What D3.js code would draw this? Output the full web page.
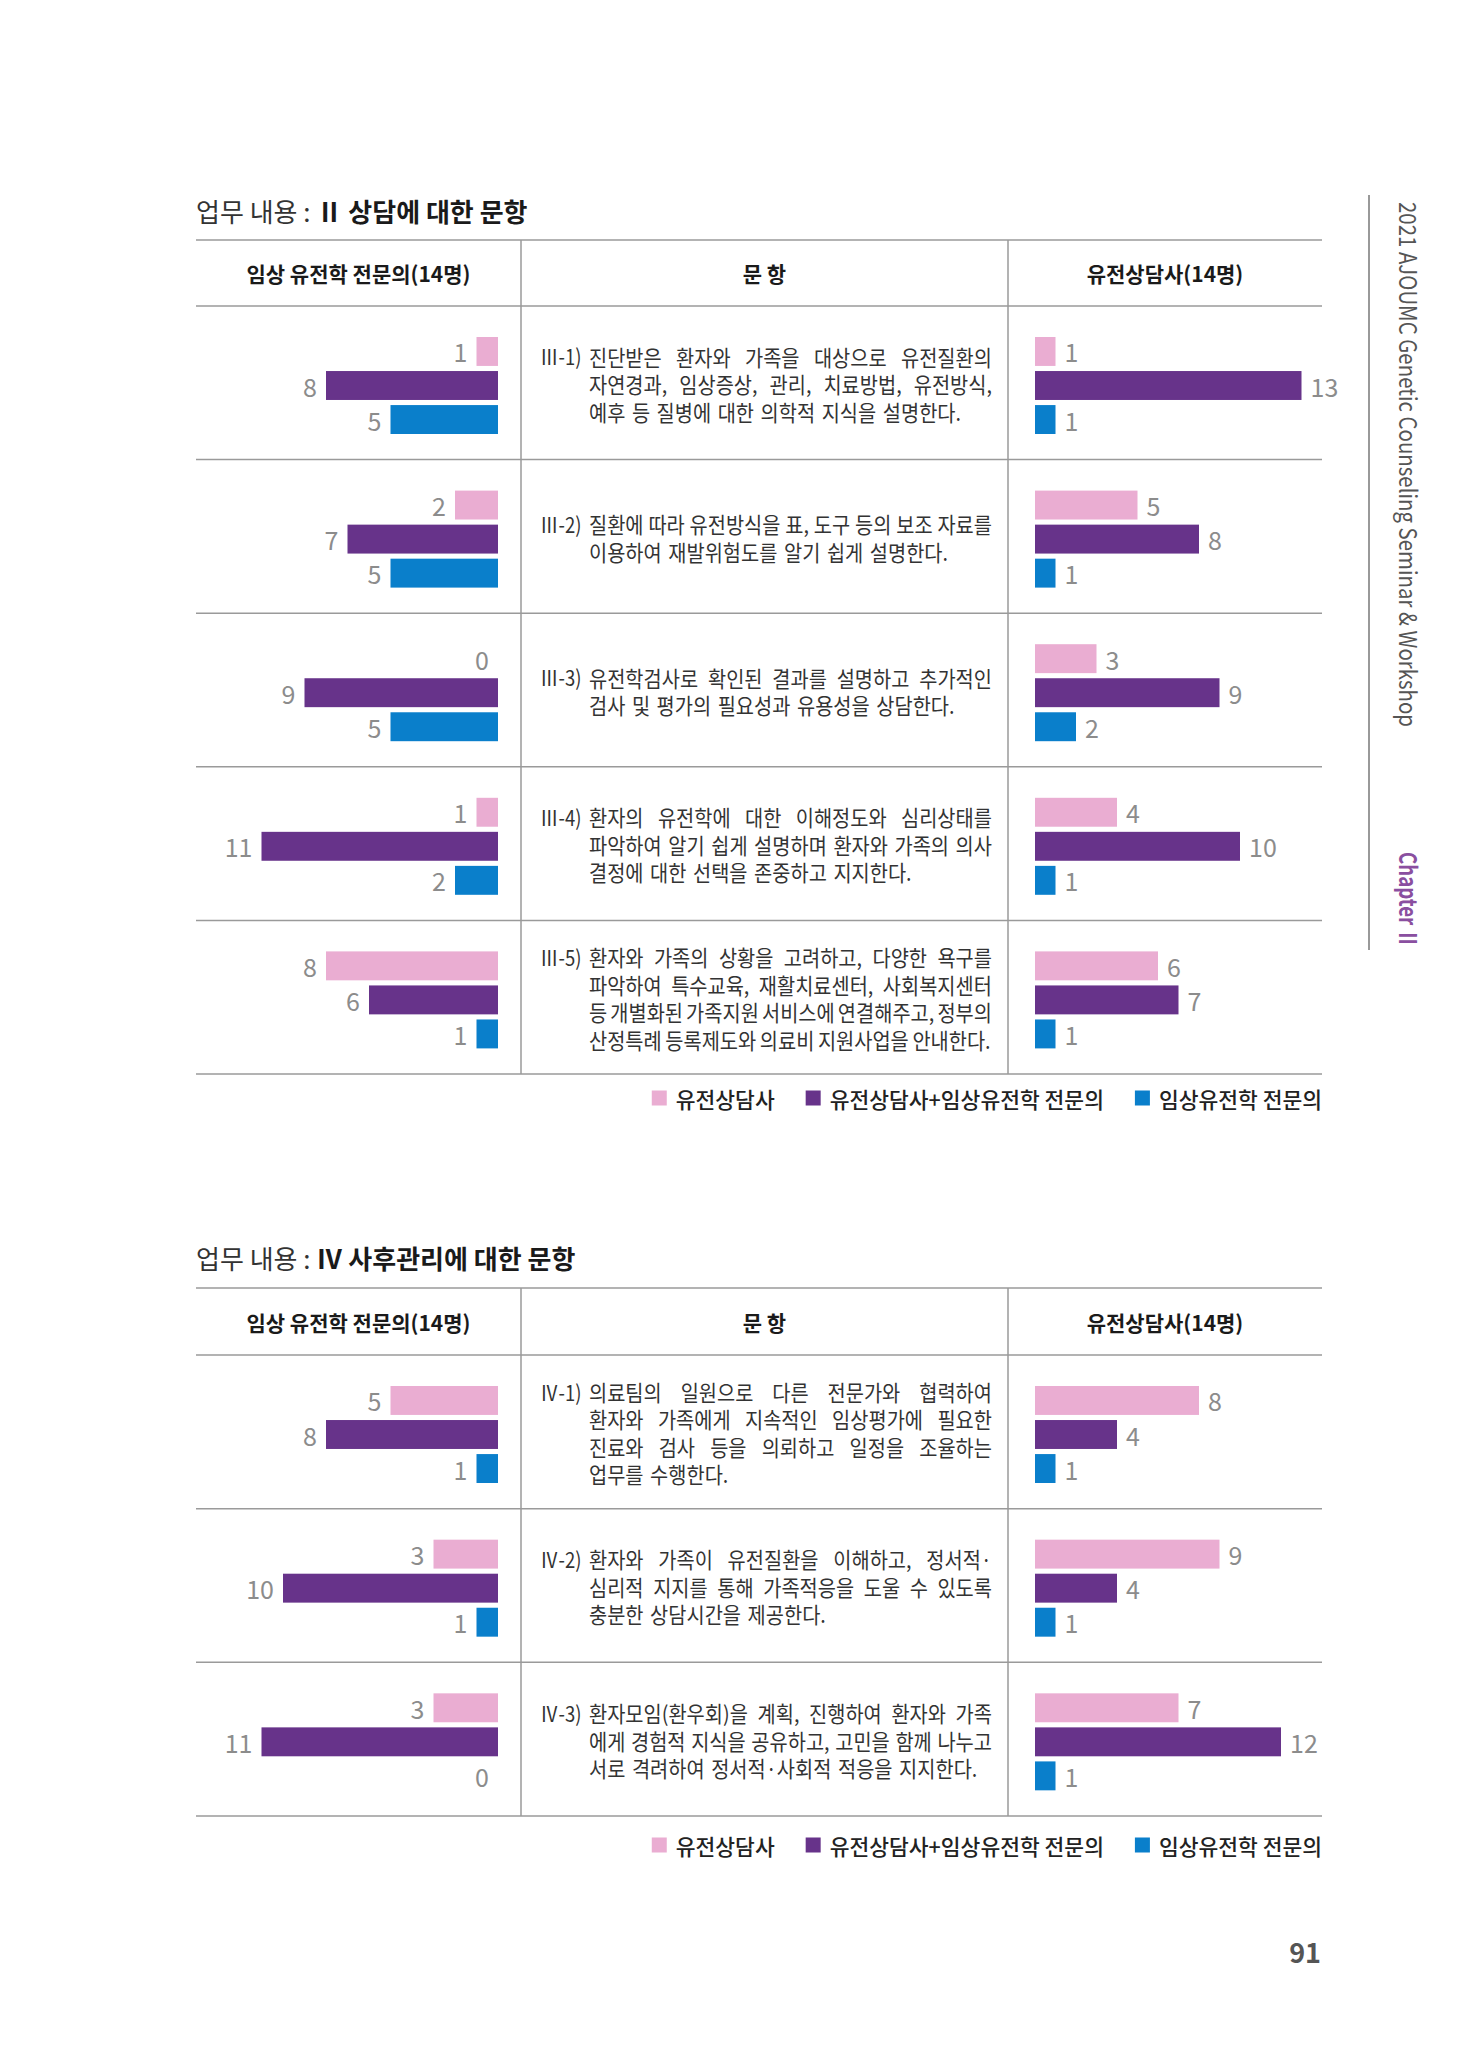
<!DOCTYPE html>
<html>
<head>
<meta charset="utf-8">
<script src="https://cdn.jsdelivr.net/npm/d3@7"></script>
<style>
  body { margin: 0; background: #fff; }
  svg { display: block; }
  text { font-family: "Noto Sans CJK KR", "Noto Sans", sans-serif; }
</style>
</head>
<body>
<svg id="page" width="1480" height="2047"></svg>
<script>
// series and header labels
const seriesNames = ["유전상담사", "유전상담사+임상유전학 전문의", "임상유전학 전문의"];
const headerLabels = ["임상 유전학 전문의(14명)", "문 항", "유전상담사(14명)"];

// section III : 상담
const titleIII = "Ⅱ 상담에 대한 문항";
const itemsIII = ["Ⅲ-1)", "Ⅲ-2)", "Ⅲ-3)", "Ⅲ-4)", "Ⅲ-5)"];
const linesIII = [
  ["진단받은 환자와 가족을 대상으로 유전질환의", "자연경과, 임상증상, 관리, 치료방법, 유전방식,", "예후 등 질병에 대한 의학적 지식을 설명한다."],
  ["질환에 따라 유전방식을 표, 도구 등의 보조 자료를", "이용하여 재발위험도를 알기 쉽게 설명한다."],
  ["유전학검사로 확인된 결과를 설명하고 추가적인", "검사 및 평가의 필요성과 유용성을 상담한다."],
  ["환자의 유전학에 대한 이해정도와 심리상태를", "파악하여 알기 쉽게 설명하며 환자와 가족의 의사", "결정에 대한 선택을 존중하고 지지한다."],
  ["환자와 가족의 상황을 고려하고, 다양한 욕구를", "파악하여 특수교육, 재활치료센터, 사회복지센터", "등 개별화된 가족지원 서비스에 연결해주고, 정부의", "산정특례 등록제도와 의료비 지원사업을 안내한다."]
];
const doctorPinkIII = [1, 2, 0, 1, 8];
const doctorPurpleIII = [8, 7, 9, 11, 6];
const doctorBlueIII = [5, 5, 5, 2, 1];
const counselorPinkIII = [1, 5, 3, 4, 6];
const counselorPurpleIII = [13, 8, 9, 10, 7];
const counselorBlueIII = [1, 1, 2, 1, 1];

// section IV : 사후관리
const titleIV = "Ⅳ 사후관리에 대한 문항";
const itemsIV = ["Ⅳ-1)", "Ⅳ-2)", "Ⅳ-3)"];
const linesIV = [
  ["의료팀의 일원으로 다른 전문가와 협력하여", "환자와 가족에게 지속적인 임상평가에 필요한", "진료와 검사 등을 의뢰하고 일정을 조율하는", "업무를 수행한다."],
  ["환자와 가족이 유전질환을 이해하고, 정서적·", "심리적 지지를 통해 가족적응을 도울 수 있도록", "충분한 상담시간을 제공한다."],
  ["환자모임(환우회)을 계획, 진행하여 환자와 가족", "에게 경험적 지식을 공유하고, 고민을 함께 나누고", "서로 격려하여 정서적·사회적 적응을 지지한다."]
];
const doctorPinkIV = [5, 3, 3];
const doctorPurpleIV = [8, 10, 11];
const doctorBlueIV = [1, 1, 0];
const counselorPinkIV = [8, 9, 7];
const counselorPurpleIV = [4, 4, 12];
const counselorBlueIV = [1, 1, 1];

const sideTitle = "2021 AJOUMC Genetic Counseling Seminar & Workshop";
const chapterLabel = "Chapter Ⅱ";
const pageNumber = "91";

// styles
const colors = ["#eaadd2", "#67338a", "#0a7fcb"];
const lineColor = "#9a9a9a";
const tableLeft = 196, tableRight = 1322, col1 = 521, col2 = 1008;
const K = 0.92;        // horizontal squeeze of the body font
const bodySize = 21.5;
const textLeft = 589, textRight = 992;

const svg = d3.select("#page");

const leftX = d3.scaleLinear().domain([0, 14]).range([498, 498 - 301]);
const rightX = d3.scaleLinear().domain([0, 14]).range([1035, 1035 + 287]);
const barY = d3.scaleBand().domain(d3.range(3)).range([31, 128]).paddingInner(0.15);

// lay out one line of words; justified when `justify` is true
function wordLine(g, str, y, justify) {
  const target = textRight - textLeft;
  const nodes = str.split(" ").map(w => {
    const t = g.append("text")
      .attr("font-size", bodySize)
      .attr("fill", "#333")
      .attr("dominant-baseline", "central")
      .text(w);
    return { t, w: t.node().getComputedTextLength() * K };
  });
  const sum = d3.sum(nodes, d => d.w);
  const n = nodes.length;
  let gap = 6.5, scale = 1;
  if (justify && n > 1) gap = (target - sum) / (n - 1);
  if (gap < 3.5 || sum + gap * (n - 1) > target) {
    gap = Math.min(gap, 3.5);
    scale = Math.min(1, (target - gap * (n - 1)) / sum);
  }
  let x = textLeft;
  nodes.forEach(d => {
    d.t.attr("transform", `translate(${x},${y}) scale(${K * scale},1)`);
    x += d.w * scale + gap;
  });
}

function drawSection(s) {
  const g = svg.append("g");

  // title
  const title = g.append("text")
    .attr("x", tableLeft).attr("y", s.titleY)
    .attr("dominant-baseline", "central")
    .attr("font-size", 26);
  title.append("tspan").attr("fill", "#333").attr("font-weight", 400).text("업무 내용 : ");
  title.append("tspan").attr("fill", "#1a1a1a").attr("font-weight", 700).text(s.title);

  const rows = d3.scaleBand().domain(s.items).range([s.headBottom, s.bottom]);

  // grid lines
  const hLines = [s.top, s.headBottom].concat(s.items.map(d => rows(d) + rows.bandwidth()));
  g.selectAll(".hline").data(hLines).enter().append("line")
    .attr("x1", tableLeft).attr("x2", tableRight)
    .attr("y1", d => d).attr("y2", d => d)
    .attr("stroke", lineColor).attr("stroke-width", 1.5);
  g.selectAll(".vline").data([col1, col2]).enter().append("line")
    .attr("x1", d => d).attr("x2", d => d)
    .attr("y1", s.top).attr("y2", s.bottom)
    .attr("stroke", lineColor).attr("stroke-width", 1.5);

  // headers
  const headX = [(tableLeft + col1) / 2, (col1 + col2) / 2, (col2 + tableRight) / 2];
  g.selectAll(".head").data(headerLabels).enter().append("text")
    .attr("x", (d, i) => headX[i])
    .attr("y", (s.top + s.headBottom) / 2)
    .attr("text-anchor", "middle")
    .attr("dominant-baseline", "central")
    .attr("font-size", 21)
    .attr("font-weight", 700)
    .attr("fill", "#1a1a1a")
    .text(d => d);

  s.items.forEach((item, i) => {
    const top = rows(item);
    const rowG = g.append("g");

    // doctor bars (left, growing leftward)
    const left = [s.docPink[i], s.docPurple[i], s.docBlue[i]];
    rowG.selectAll(".lb").data(left).enter().append("rect")
      .attr("x", d => leftX(d))
      .attr("y", (d, k) => top + barY(k))
      .attr("width", d => leftX(0) - leftX(d))
      .attr("height", barY.bandwidth())
      .attr("fill", (d, k) => colors[k]);
    rowG.selectAll(".ll").data(left).enter().append("text")
      .attr("x", d => leftX(d) - 9)
      .attr("y", (d, k) => top + barY(k) + barY.bandwidth() / 2)
      .attr("text-anchor", "end")
      .attr("dominant-baseline", "central")
      .attr("font-family", "Roboto")
      .attr("font-size", 25)
      .attr("fill", "#8c8c8c")
      .text(d => d);

    // counselor bars (right)
    const right = [s.cPink[i], s.cPurple[i], s.cBlue[i]];
    rowG.selectAll(".rb").data(right).enter().append("rect")
      .attr("x", rightX(0))
      .attr("y", (d, k) => top + barY(k))
      .attr("width", d => rightX(d) - rightX(0))
      .attr("height", barY.bandwidth())
      .attr("fill", (d, k) => colors[k]);
    rowG.selectAll(".rl").data(right).enter().append("text")
      .attr("x", d => rightX(d) + 9)
      .attr("y", (d, k) => top + barY(k) + barY.bandwidth() / 2)
      .attr("dominant-baseline", "central")
      .attr("font-family", "Roboto")
      .attr("font-size", 25)
      .attr("fill", "#8c8c8c")
      .text(d => d);

    // description
    const lines = s.lines[i];
    const lh = 27.5;
    const cy = top + rows.bandwidth() / 2 + 1;
    const y0 = cy - (lines.length - 1) * lh / 2;
    rowG.append("text")
      .attr("transform", `translate(540,${y0}) scale(0.86,1)`)
      .attr("dominant-baseline", "central")
      .attr("font-size", bodySize)
      .attr("fill", "#333")
      .text(item);
    lines.forEach((ln, j) => {
      wordLine(rowG, ln, y0 + j * lh, j < lines.length - 1);
    });
  });

  // legend, right aligned to the table
  const lg = g.append("g");
  let x = 0;
  seriesNames.forEach((name, k) => {
    lg.append("rect")
      .attr("x", x).attr("y", -7.5)
      .attr("width", 15).attr("height", 15)
      .attr("fill", colors[k]);
    const t = lg.append("text")
      .attr("x", x + 24).attr("y", 0)
      .attr("dominant-baseline", "central")
      .attr("font-size", 21.5)
      .attr("font-weight", 500)
      .attr("fill", "#222")
      .text(name);
    x += 24 + t.node().getComputedTextLength() + 31;
  });
  x -= 31;
  lg.attr("transform", `translate(${tableRight - x},${s.legendY})`);
}

drawSection({
  title: titleIII, items: itemsIII, lines: linesIII,
  docPink: doctorPinkIII, docPurple: doctorPurpleIII, docBlue: doctorBlueIII,
  cPink: counselorPinkIII, cPurple: counselorPurpleIII, cBlue: counselorBlueIII,
  titleY: 210, top: 240, headBottom: 306, bottom: 1074, legendY: 1098
});

drawSection({
  title: titleIV, items: itemsIV, lines: linesIV,
  docPink: doctorPinkIV, docPurple: doctorPurpleIV, docBlue: doctorBlueIV,
  cPink: counselorPinkIV, cPurple: counselorPurpleIV, cBlue: counselorBlueIV,
  titleY: 1257, top: 1288, headBottom: 1355, bottom: 1816, legendY: 1845
});

// side band
svg.append("line")
  .attr("x1", 1369).attr("x2", 1369)
  .attr("y1", 195).attr("y2", 950)
  .attr("stroke", "#777").attr("stroke-width", 1.5);

svg.append("text")
  .attr("transform", "translate(1399,202) rotate(90)")
  .attr("font-family", "Roboto")
  .attr("font-size", 24)
  .attr("fill", "#555")
  .attr("textLength", 525)
  .attr("lengthAdjust", "spacingAndGlyphs")
  .text(sideTitle);

svg.append("text")
  .attr("transform", "translate(1399,852) rotate(90)")
  .attr("font-family", "Roboto, 'Noto Sans CJK KR'")
  .attr("font-size", 24)
  .attr("font-weight", 700)
  .attr("fill", "#8a4fa0")
  .attr("textLength", 96)
  .attr("lengthAdjust", "spacingAndGlyphs")
  .text(chapterLabel);

svg.append("text")
  .attr("x", 1321).attr("y", 1963)
  .attr("text-anchor", "end")
  .attr("font-family", "Roboto")
  .attr("font-size", 27)
  .attr("font-weight", 700)
  .attr("fill", "#555")
  .text(pageNumber);
</script>
</body>
</html>
